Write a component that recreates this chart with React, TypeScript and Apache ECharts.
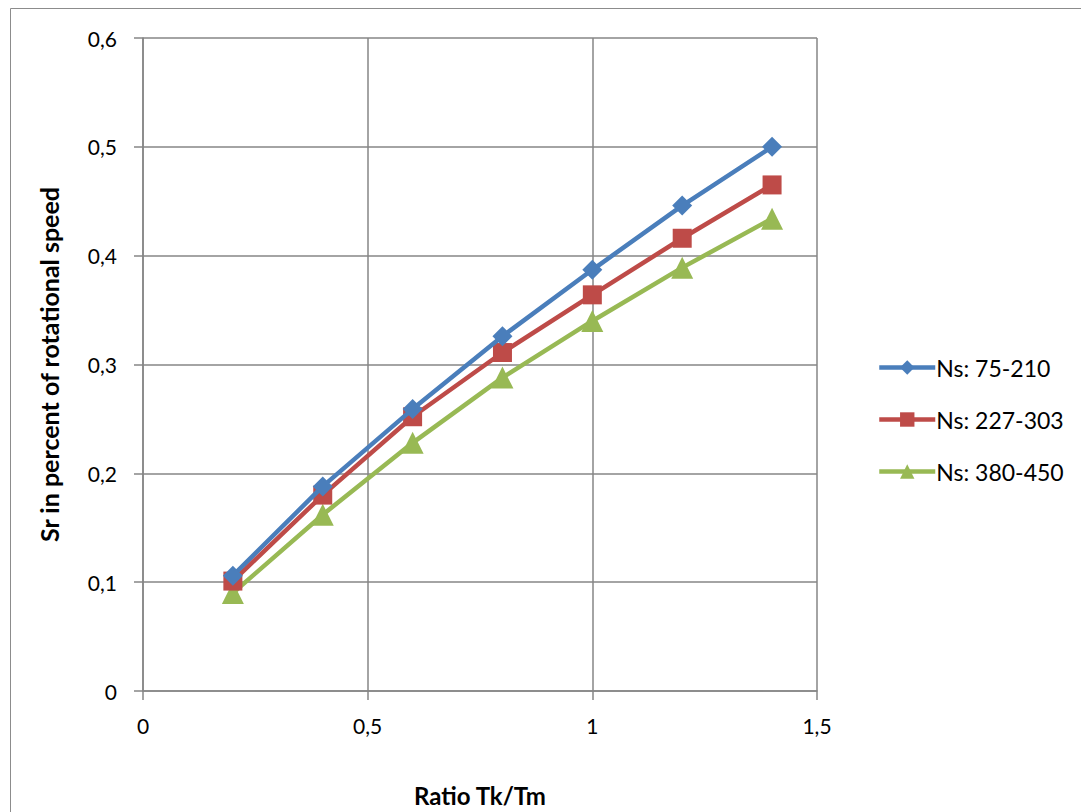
import React, { useEffect, useRef } from "react";
import * as echarts from "echarts";

const ratios = [0.2, 0.4, 0.6, 0.8, 1.0, 1.2, 1.4];
const seriesNames = ["Ns: 75-210", "Ns: 227-303", "Ns: 380-450"];
const ns75to210 = [0.106, 0.188, 0.259, 0.326, 0.387, 0.446, 0.5];
const ns227to303 = [0.101, 0.18, 0.252, 0.311, 0.364, 0.416, 0.465];
const ns380to450 = [0.09, 0.162, 0.228, 0.288, 0.34, 0.389, 0.434];
const colors = ["#4A7EBB", "#BE4B48", "#98B954"];
const symbols = ["diamond", "rect", "triangle"];
const symbolSizes = [20, 19, 22];

const FONT = "Lato, 'Open Sans', sans-serif";
const comma = (v: number) => String(v).replace(".", ",");

export default function App() {
  const ref = useRef<HTMLDivElement>(null);

  useEffect(() => {
    document.body.style.margin = "0";
    const chart = echarts.init(ref.current!, null, { renderer: "svg" });
    const values = [ns75to210, ns227to303, ns380to450];
    chart.setOption({
      animation: false,
      backgroundColor: "#ffffff",
      textStyle: { fontFamily: FONT },
      graphic: [
        {
          type: "rect",
          shape: { x: 10.5, y: 8.5, width: 1100, height: 820 },
          style: { fill: "none", stroke: "#8c8c8c", lineWidth: 1 },
          silent: true,
        },
      ],
      grid: { left: 143, right: 264, top: 38, bottom: 119 },
      legend: {
        orient: "vertical",
        left: 872,
        top: 351,
        itemWidth: 56,
        itemHeight: 18,
        itemGap: 29,
        lineStyle: { width: 4.5 },
        textStyle: { fontSize: 23, color: "#000", fontFamily: FONT, padding: [0, 0, 0, -4] },
        data: seriesNames,
      },
      xAxis: {
        type: "value",
        min: 0,
        max: 1.5,
        interval: 0.5,
        name: "Ratio Tk/Tm",
        nameLocation: "middle",
        nameGap: 92,
        nameTextStyle: { fontSize: 24, fontWeight: "bold", color: "#000", fontFamily: FONT },
        axisLine: { show: true, lineStyle: { color: "#868686", width: 1.5 } },
        axisTick: { show: true, length: 9, inside: false, lineStyle: { color: "#868686", width: 1.5 } },
        axisLabel: { fontSize: 21, color: "#000", margin: 24, formatter: comma },
        splitLine: { show: true, lineStyle: { color: "#868686", width: 1.5 } },
      },
      yAxis: {
        type: "value",
        min: 0,
        max: 0.6,
        interval: 0.1,
        name: "Sr in percent of rotational speed",
        nameLocation: "middle",
        nameGap: 82,
        nameTextStyle: { fontSize: 25, fontWeight: "bold", color: "#000", fontFamily: FONT },
        axisLine: { show: true, lineStyle: { color: "#868686", width: 1.5 } },
        axisTick: { show: true, length: 9, inside: false, lineStyle: { color: "#868686", width: 1.5 } },
        axisLabel: { fontSize: 21, color: "#000", margin: 26, formatter: (v: number) => comma(Math.round(v * 10) / 10) },
        splitLine: { show: true, lineStyle: { color: "#868686", width: 1.5 } },
      },
      series: seriesNames.map((name, i) => ({
        name,
        type: "line",
        data: ratios.map((x, j) => [x, values[i][j]]),
        symbol: symbols[i],
        symbolSize: symbolSizes[i],
        showSymbol: true,
        color: colors[i],
        lineStyle: { width: 4.5, color: colors[i] },
        itemStyle: { color: colors[i] },
        z: 3 - i,
      })),
    });
    return () => chart.dispose();
  }, []);

  return <div ref={ref} style={{ width: 1081, height: 812 }} />;
}
